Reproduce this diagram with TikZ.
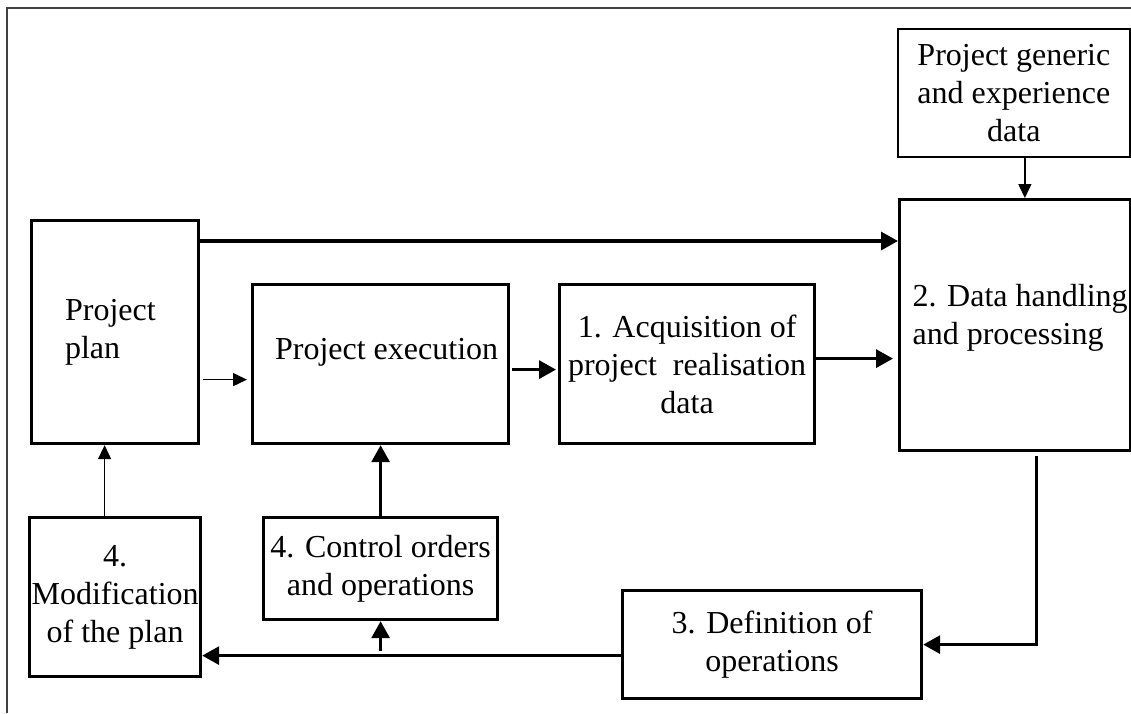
\documentclass[tikz,border=0pt]{standalone}
\usepackage{fontspec}
\setmainfont{Liberation Serif}
\usetikzlibrary{arrows.meta,calc}
\begin{document}
\begin{tikzpicture}[x=1pt,y=-1pt,
  boxstyle/.style={draw, line width=3.2pt, inner sep=0pt, anchor=north west,
    font=\fontsize{32}{38}\selectfont, align=center},
  thinbox/.style={boxstyle, line width=1.7pt},
  thickarrow/.style={line width=3.2pt, -{Triangle[length=17pt,width=18pt]}},
  thinarrow/.style={line width=1.5pt, -{Triangle[length=14pt,width=13pt]}},
  framestyle/.style={line width=2pt, black!75}]
\useasboundingbox (0,0) rectangle (1131,713);
% outer frame (only top and left edges are visible)
\draw[framestyle] (7,713) -- (7,7.5) -- (1131,7.5);

% boxes
\node[boxstyle, minimum width=167pt, minimum height=223pt, align=left, text width=100pt]
  (plan) at (30,219) {Project\\plan};
\node[boxstyle, minimum width=256pt, minimum height=159pt]
  (exec) at (251,283) {\hspace*{12pt}\raisebox{12pt}[\height][\depth]{Project execution}};
\node[boxstyle, minimum width=255pt, minimum height=159pt]
  (acq) at (558,283) {1. Acquisition of\\project\ \ realisation\\data};
\node[boxstyle, minimum width=231pt, minimum height=251pt, align=left]
  (data) at (898,198) {\hspace*{10pt}\raisebox{7pt}[\height][\depth]{\begin{tabular}{@{}l@{}}2. Data handling\\and processing\end{tabular}}};
\node[thinbox, minimum width=232pt, minimum height=128pt]
  (gen) at (897,28) {Project generic\\and experience\\data};
\node[boxstyle, minimum width=171pt, minimum height=159pt]
  (mod) at (28,516) {4.\\Modification\\of the plan};
\node[boxstyle, minimum width=234pt, minimum height=102pt]
  (ctrl) at (262,516) {4. Control orders\\and operations};
\node[boxstyle, minimum width=299pt, minimum height=108pt]
  (def) at (621,589) {3. Definition of\\operations};

% connectors
\coordinate (c1) at ([yshift=-22pt]plan.north east);
\draw[thickarrow] (c1) -- (c1 -| data.west);

\coordinate (c2) at ([yshift=-47.5pt]plan.east);
\draw[thinarrow, shorten <=3pt, shorten >=4pt] (c2) -- (c2 -| exec.west);

\coordinate (c3) at ([yshift=-5.5pt]exec.east);
\draw[thickarrow, shorten <=2pt, shorten >=2pt] (c3) -- (c3 -| acq.west);

\coordinate (c4) at ([yshift=5.5pt]acq.east);
\draw[thickarrow, shorten >=5pt] (c4) -- (c4 -| data.west);

\coordinate (c5) at ([xshift=11pt]gen.south);
\draw[thinarrow] (c5) -- (c5 |- data.north);

\coordinate (c6) at ([xshift=21.5pt]data.south);
\draw[thickarrow, shorten <=4pt] (c6) |- (def.east);

\coordinate (c7) at ([yshift=-11pt]def.west);
\draw[thickarrow] (c7) -- (c7 -| mod.east);

\coordinate (c8) at (ctrl.south |- c7);
\draw[thickarrow] ([yshift=5pt]c8) -- (ctrl.south);

\draw[thickarrow] (ctrl.north) -- (exec.south);

\coordinate (c9) at ([xshift=-10.5pt]mod.north);
\draw[thinarrow] (c9) -- (c9 |- plan.south);
\end{tikzpicture}
\end{document}
